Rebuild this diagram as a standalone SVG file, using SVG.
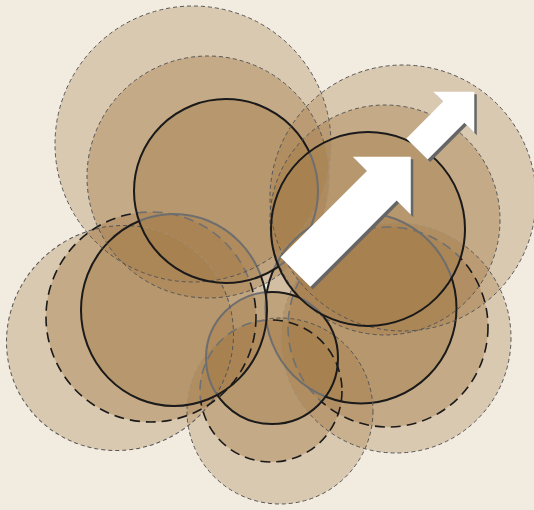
<svg xmlns="http://www.w3.org/2000/svg" xmlns:xlink="http://www.w3.org/1999/xlink" width="534" height="510" viewBox="0 0 534 510">
<style>
.bg{fill:#f2ebe0}
.fo{fill:#a27a46;fill-opacity:.3;stroke:none}
.fm{fill:#a27a46;fill-opacity:.38;stroke:none}
.fi{fill:#a27a46;fill-opacity:.4;stroke:none}
.so{fill:none;stroke:#555;stroke-width:1;stroke-dasharray:4 3}
.sm{fill:none;stroke:#1a1a1a;stroke-width:1.6;stroke-dasharray:10 6}
.si{fill:none;stroke:#1a1a1a;stroke-width:2}
.cg .so{stroke:#a38f72}
.cg .sm{stroke:#707070}
.cg .si{stroke:#6e6e6e}
.ar{fill:#fff}
.sh{fill:#666}
</style>
<defs>
<circle id="oRB" cx="396" cy="338" r="115"/>
<circle id="mRB" cx="388" cy="327" r="100"/>
<circle id="iRB" cx="361" cy="308" r="95.5"/>
<circle id="oB" cx="280" cy="411" r="93"/>
<circle id="mB" cx="271" cy="391" r="71"/>
<circle id="iB" cx="272" cy="358" r="66"/>
<ellipse id="oL" cx="120" cy="338" rx="115" ry="111" transform="rotate(-38 120 338)"/>
<circle id="mL" cx="151" cy="317" r="105"/>
<ellipse id="iL" cx="174" cy="310" rx="93" ry="96"/>
<circle id="oTL" cx="193" cy="144" r="138"/>
<circle id="mTL" cx="208" cy="177" r="121"/>
<circle id="iTL" cx="226" cy="191" r="92"/>
<circle id="oTR" cx="403" cy="198" r="133"/>
<circle id="mTR" cx="385" cy="220" r="115"/>
<circle id="iTR" cx="368" cy="229" r="97"/>
<mask id="kRB" maskUnits="userSpaceOnUse" x="0" y="0" width="534" height="510">
<rect width="534" height="510" fill="#fff"/>
<use xlink:href="#iB" fill="#000"/><use xlink:href="#iL" fill="#000"/><use xlink:href="#iTL" fill="#000"/><use xlink:href="#iTR" fill="#000"/>
</mask>
<mask id="kRBc" maskUnits="userSpaceOnUse" x="0" y="0" width="534" height="510">
<use xlink:href="#iB" fill="#fff"/><use xlink:href="#iL" fill="#fff"/><use xlink:href="#iTL" fill="#fff"/><use xlink:href="#iTR" fill="#fff"/>
</mask>
<mask id="kB" maskUnits="userSpaceOnUse" x="0" y="0" width="534" height="510">
<rect width="534" height="510" fill="#fff"/>
<use xlink:href="#iL" fill="#000"/><use xlink:href="#iTL" fill="#000"/><use xlink:href="#iTR" fill="#000"/>
</mask>
<mask id="kBc" maskUnits="userSpaceOnUse" x="0" y="0" width="534" height="510">
<use xlink:href="#iL" fill="#fff"/><use xlink:href="#iTL" fill="#fff"/><use xlink:href="#iTR" fill="#fff"/>
</mask>
<mask id="kL" maskUnits="userSpaceOnUse" x="0" y="0" width="534" height="510">
<rect width="534" height="510" fill="#fff"/>
<use xlink:href="#iTL" fill="#000"/><use xlink:href="#iTR" fill="#000"/>
</mask>
<mask id="kLc" maskUnits="userSpaceOnUse" x="0" y="0" width="534" height="510">
<use xlink:href="#iTL" fill="#fff"/><use xlink:href="#iTR" fill="#fff"/>
</mask>
<mask id="kTL" maskUnits="userSpaceOnUse" x="0" y="0" width="534" height="510">
<rect width="534" height="510" fill="#fff"/>
<use xlink:href="#iTR" fill="#000"/>
</mask>
<mask id="kTLc" maskUnits="userSpaceOnUse" x="0" y="0" width="534" height="510">
<use xlink:href="#iTR" fill="#fff"/>
</mask>
<path id="bigArrow" d="M0,-21 H122 V-41 L163,0 L122,41 V21 H0 Z"/>
<path id="smallArrow" d="M0,-15 H52 V-29 L81,0 L52,29 V15 H0 Z"/>
</defs>
<rect class="bg" width="534" height="510"/>
<g id="petal-right-bottom-fill">
<use xlink:href="#oRB" class="fo"/><use xlink:href="#mRB" class="fm"/><use xlink:href="#iRB" class="fi"/>
</g>
<g id="petal-bottom-fill">
<use xlink:href="#oB" class="fo"/><use xlink:href="#mB" class="fm"/><use xlink:href="#iB" class="fi"/>
</g>
<g id="petal-left-fill">
<use xlink:href="#oL" class="fo"/><use xlink:href="#mL" class="fm"/><use xlink:href="#iL" class="fi"/>
</g>
<g id="petal-top-left-fill">
<use xlink:href="#oTL" class="fo"/><use xlink:href="#mTL" class="fm"/><use xlink:href="#iTL" class="fi"/>
</g>
<g id="petal-top-right-fill">
<use xlink:href="#oTR" class="fo"/><use xlink:href="#mTR" class="fm"/><use xlink:href="#iTR" class="fi"/>
</g>
<g id="petal-right-bottom-outline">
<g mask="url(#kRB)"><use xlink:href="#oRB" class="so"/><use xlink:href="#mRB" class="sm"/><use xlink:href="#iRB" class="si"/></g>
<g class="cg" mask="url(#kRBc)"><use xlink:href="#oRB" class="so"/><use xlink:href="#mRB" class="sm"/><use xlink:href="#iRB" class="si"/></g>
</g>
<g id="petal-bottom-outline">
<g mask="url(#kB)"><use xlink:href="#oB" class="so"/><use xlink:href="#mB" class="sm"/><use xlink:href="#iB" class="si"/></g>
<g class="cg" mask="url(#kBc)"><use xlink:href="#oB" class="so"/><use xlink:href="#mB" class="sm"/><use xlink:href="#iB" class="si"/></g>
</g>
<g id="petal-left-outline">
<g mask="url(#kL)"><use xlink:href="#oL" class="so"/><use xlink:href="#mL" class="sm"/><use xlink:href="#iL" class="si"/></g>
<g class="cg" mask="url(#kLc)"><use xlink:href="#oL" class="so"/><use xlink:href="#mL" class="sm"/><use xlink:href="#iL" class="si"/></g>
</g>
<g id="petal-top-left-outline">
<g mask="url(#kTL)"><use xlink:href="#oTL" class="so"/><use xlink:href="#mTL" class="so"/><use xlink:href="#iTL" class="si"/></g>
<g class="cg" mask="url(#kTLc)"><use xlink:href="#oTL" class="so"/><use xlink:href="#mTL" class="so"/><use xlink:href="#iTL" class="si"/></g>
</g>
<g id="petal-top-right-outline">
<use xlink:href="#oTR" class="so"/><use xlink:href="#mTR" class="so"/><use xlink:href="#iTR" class="si"/>
</g>
<g id="arrows">
<use xlink:href="#bigArrow" class="sh" transform="translate(298 274.5) rotate(-45)"/>
<use xlink:href="#bigArrow" class="ar" transform="translate(295.5 272) rotate(-45)"/>
<use xlink:href="#smallArrow" class="sh" transform="translate(419.5 151.5) rotate(-45)"/>
<use xlink:href="#smallArrow" class="ar" transform="translate(417 149) rotate(-45)"/>
</g>
</svg>
